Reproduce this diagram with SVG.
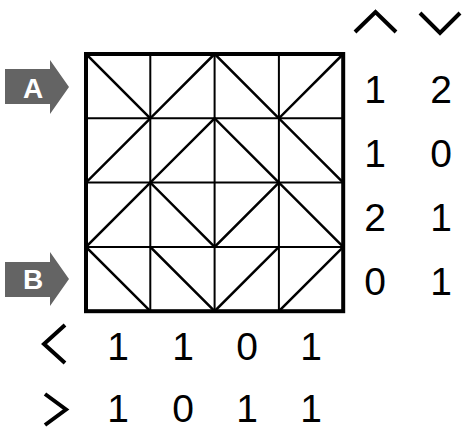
<svg xmlns="http://www.w3.org/2000/svg" width="463" height="428" viewBox="0 0 463 428">
<style>
.grid{stroke:#000;stroke-width:2;fill:none}
.diag{stroke:#000;stroke-width:2.5;fill:none;stroke-linecap:square}
.border{stroke:#000;stroke-width:4;fill:none}
.chev{stroke:#000;stroke-width:4;fill:none;stroke-linecap:butt;stroke-linejoin:miter}
.num{font-family:"Liberation Sans",Arial,sans-serif;font-size:39px;fill:#000;text-anchor:middle}
.lab{font-family:"Liberation Sans",Arial,sans-serif;font-size:28px;font-weight:bold;fill:#fff;text-anchor:middle}
.arr{fill:#646464}
</style>
<rect width="463" height="428" fill="#fff"/>
<g id="grid">
<path class="grid" d="M150.3 54V311.2M214.6 54V311.2M278.9 54V311.2M86 118.3H343.2M86 182.6H343.2M86 246.9H343.2"/>
<path class="diag" d="M86 54L150.3 118.3M150.3 118.3L214.6 54M214.6 54L278.9 118.3M278.9 118.3L343.2 54
M86 182.6L150.3 118.3M150.3 182.6L214.6 118.3M214.6 118.3L278.9 182.6M278.9 118.3L343.2 182.6
M86 246.9L150.3 182.6M150.3 182.6L214.6 246.9M214.6 246.9L278.9 182.6M278.9 182.6L343.2 246.9
M86 246.9L150.3 311.2M150.3 246.9L214.6 311.2M214.6 311.2L278.9 246.9M278.9 311.2L343.2 246.9"/>
<rect class="border" x="86" y="54" width="257.2" height="257.2"/>
</g>
<g id="arrowA">
<polygon class="arr" points="5,69 50,69 50,60 69,87 50,114 50,104 5,104"/>
<text class="lab" x="33" y="97.5">A</text>
</g>
<g id="arrowB">
<polygon class="arr" points="5,262 50,262 50,252 69,279 50,306 50,297 5,297"/>
<text class="lab" x="33" y="289">B</text>
</g>
<g id="right-labels">
<polyline class="chev" points="355,32 375.5,12 396,32"/>
<polyline class="chev" points="420,13 440,33 460,13"/>
<text class="num" x="375" y="102.7">1</text><text class="num" x="441" y="102.7">2</text>
<text class="num" x="375" y="166.7">1</text><text class="num" x="441" y="166.7">0</text>
<text class="num" x="375" y="230.5">2</text><text class="num" x="441" y="230.5">1</text>
<text class="num" x="375" y="295">0</text><text class="num" x="441" y="295">1</text>
</g>
<g id="bottom-labels">
<polyline class="chev" points="65,325 44,344 65,363"/>
<polyline class="chev" points="45,394 66,409.5 45,425"/>
<text class="num" x="118" y="360">1</text><text class="num" x="183" y="360">1</text>
<text class="num" x="247" y="360">0</text><text class="num" x="311" y="360">1</text>
<text class="num" x="118" y="422">1</text><text class="num" x="183" y="422">0</text>
<text class="num" x="247" y="422">1</text><text class="num" x="311" y="422">1</text>
</g>
</svg>
